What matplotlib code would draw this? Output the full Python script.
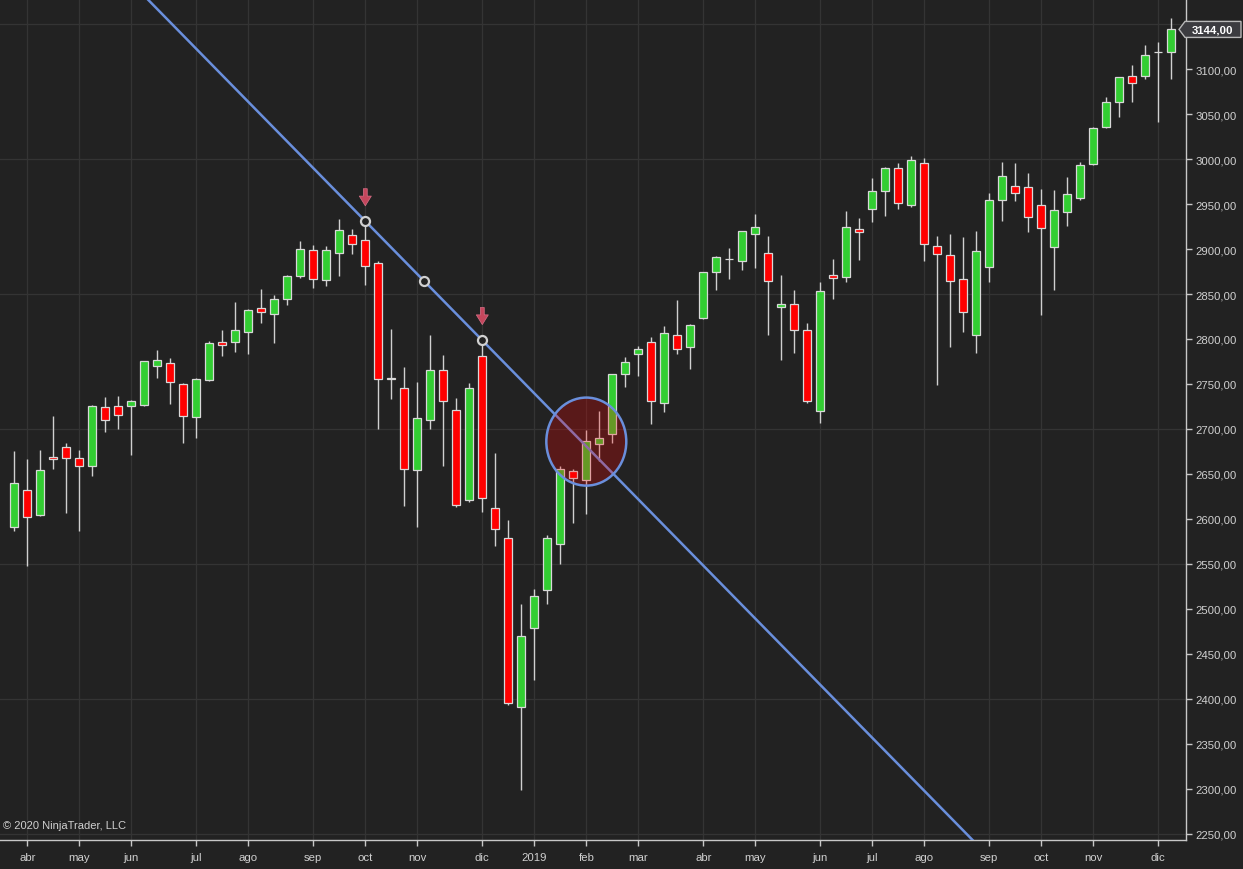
import numpy as np
import pandas as pd
import matplotlib
matplotlib.use("Agg")
import matplotlib.pyplot as plt
from matplotlib.patches import Ellipse, Polygon

# ---------------- data (weekly OHLC) ----------------
first_week = "2018-03-30"
opens = [2591, 2632, 2604, 2669, 2680, 2668, 2659, 2724, 2725, 2725,
         2727, 2770, 2773, 2750, 2713, 2754, 2797, 2797, 2808, 2834,
         2828, 2844, 2870, 2899, 2866, 2896, 2916, 2910, 2885, 2757,
         2745, 2654, 2710, 2766, 2721, 2621, 2781, 2612, 2579, 2391,
         2479, 2521, 2572, 2653, 2643, 2683, 2694, 2761, 2783, 2797,
         2729, 2805, 2791, 2823, 2874, 2889, 2887, 2917, 2896, 2836,
         2839, 2810, 2720, 2871, 2869, 2922, 2944, 2965, 2990, 2949,
         2996, 2903, 2893, 2867, 2805, 2880, 2954, 2970, 2969, 2949,
         2902, 2941, 2957, 2995, 3036, 3063, 3092, 3092, 3119, 3119]
highs = [2675, 2667, 2677, 2714, 2684, 2677, 2727, 2736, 2737, 2732,
         2775, 2788, 2779, 2751, 2757, 2798, 2810, 2841, 2833, 2856,
         2849, 2871, 2909, 2904, 2903, 2933, 2922, 2931, 2887, 2811,
         2769, 2752, 2804, 2782, 2734, 2751, 2799, 2673, 2599, 2505,
         2522, 2582, 2659, 2655, 2699, 2720, 2761, 2780, 2792, 2802,
         2814, 2843, 2817, 2875, 2892, 2901, 2920, 2939, 2915, 2871,
         2854, 2818, 2863, 2889, 2942, 2935, 2979, 2991, 2996, 3003,
         3001, 2914, 2917, 2913, 2920, 2962, 2997, 2996, 2984, 2967,
         2966, 2980, 2997, 3036, 3069, 3091, 3104, 3127, 3130, 3157]
lows = [2587, 2548, 2603, 2656, 2607, 2587, 2648, 2697, 2700, 2671,
        2725, 2757, 2728, 2684, 2690, 2753, 2781, 2785, 2783, 2818,
        2795, 2838, 2868, 2857, 2859, 2870, 2895, 2860, 2700, 2733,
        2614, 2591, 2700, 2659, 2613, 2619, 2608, 2570, 2393, 2299,
        2421, 2506, 2550, 2595, 2605, 2664, 2684, 2747, 2759, 2705,
        2719, 2783, 2767, 2822, 2855, 2867, 2877, 2879, 2804, 2777,
        2784, 2729, 2707, 2845, 2863, 2888, 2930, 2937, 2944, 2947,
        2887, 2749, 2791, 2808, 2784, 2863, 2931, 2953, 2919, 2827,
        2854, 2926, 2954, 2993, 3035, 3047, 3063, 3089, 3041, 3089]
closes = [2640, 2602, 2654, 2667, 2668, 2659, 2726, 2710, 2715, 2731,
          2775, 2777, 2752, 2714, 2755, 2795, 2793, 2810, 2832, 2830,
          2845, 2870, 2900, 2867, 2899, 2921, 2906, 2881, 2755, 2755,
          2656, 2712, 2766, 2731, 2616, 2745, 2623, 2589, 2396, 2470,
          2514, 2579, 2655, 2646, 2687, 2690, 2761, 2774, 2789, 2731,
          2807, 2789, 2816, 2874, 2891, 2889, 2920, 2925, 2865, 2839,
          2810, 2731, 2853, 2868, 2925, 2919, 2965, 2990, 2951, 2999,
          2906, 2894, 2865, 2830, 2898, 2955, 2981, 2962, 2936, 2923,
          2943, 2961, 2993, 3035, 3063, 3091, 3084, 3116, 3119, 3144]

month_names = ["ene", "feb", "mar", "abr", "may", "jun",
               "jul", "ago", "sep", "oct", "nov", "dic"]

# drawing-tool annotations (price levels)
trend_anchor_bar = [27, 36]
trend_anchor_price = [2931, 2798.5]
signal_bars = [27, 36]
circle_bar = 44.0
circle_price = 2686
last_price_text = "3144,00"
copyright_text = "\u00a9 2020 NinjaTrader, LLC"

# ---------------- style ----------------
BG = "#222222"
GRID = "#343434"
UP = "#32cd32"
DOWN = "#ff0000"
EDGE = "#d8d8d8"
WICK = "#d0d0d0"
TXT = "#d0d0d0"
LINE = "#6a8fdc"
FONT = ["Liberation Sans", "DejaVu Sans"]

W, H = 1243, 870
fig = plt.figure(figsize=(W / 100, H / 100), dpi=100, facecolor=BG)
ax = fig.add_axes([0, 29 / H, 1186 / W, 841 / H], facecolor=BG)

o = np.array(opens, float)
h = np.array(highs, float)
l = np.array(lows, float)
c = np.array(closes, float)
n = len(o)
idx = np.arange(n)
dates = pd.date_range(first_week, periods=n, freq="7D")

ax.set_xlim(-1.1, 90.13)
ax.set_ylim(2243.3, 3177.8)

# grid
month_start = [i for i in range(1, n) if dates[i].month != dates[i - 1].month]
for i in month_start:
    ax.axvline(i, color=GRID, lw=0.9, zorder=0)
for p in np.arange(2250, 3200, 150):
    ax.axhline(p, color=GRID, lw=0.9, zorder=0)

# candles
colors = np.where(c > o, UP, np.where(c < o, DOWN, EDGE))
ax.vlines(idx, l, h, color=WICK, lw=1.0, zorder=2)
bottoms = np.minimum(o, c)
heights = np.abs(c - o)
ax.bar(idx, heights, width=0.64, bottom=bottoms, color=colors,
       edgecolor=EDGE, linewidth=0.9, zorder=3)

# trend line through the two anchors
slope = (trend_anchor_price[1] - trend_anchor_price[0]) / (trend_anchor_bar[1] - trend_anchor_bar[0])
xs = np.array([-5.0, 100.0])
ys = trend_anchor_price[0] + slope * (xs - trend_anchor_bar[0])
ax.plot(xs, ys, color=LINE, lw=1.8, zorder=5, solid_capstyle="butt")

# highlight ellipse
ell = Ellipse((circle_bar, circle_price), width=6.15, height=97.8,
              facecolor=(1.0, 0.0, 0.0, 0.25), edgecolor=LINE, lw=1.8, zorder=6)
ax.add_patch(ell)

# anchor circles on the line
mid_bar = (trend_anchor_bar[0] + trend_anchor_bar[1]) / 2
anchor_x = [trend_anchor_bar[0], mid_bar, trend_anchor_bar[1]]
anchor_y = [trend_anchor_price[0] + slope * (x - trend_anchor_bar[0]) for x in anchor_x]
ax.plot(anchor_x, anchor_y, "o", ms=6.5, mfc=BG, mec="#d0d0d0", mew=1.6, zorder=7)

# signal arrows above the highs
for b in signal_bars:
    tip = h[b] + 17
    ax.annotate("", xy=(b, tip), xytext=(b, tip + 19),
                arrowprops=dict(arrowstyle="simple,head_length=0.5,head_width=0.62,tail_width=0.2",
                                facecolor="#c4465c", edgecolor="#d87088", lw=0.5,
                                shrinkA=0, shrinkB=0, mutation_scale=14),
                zorder=8)

# axes decorations
for s in ["top", "left"]:
    ax.spines[s].set_visible(False)
for s in ["right", "bottom"]:
    ax.spines[s].set_color("#c8c8c8")
    ax.spines[s].set_linewidth(1.0)

ax.yaxis.tick_right()
yt = np.arange(2250, 3101, 50)
ax.set_yticks(yt)
ax.set_yticklabels([f"{v:.2f}".replace(".", ",") for v in yt], family=FONT, fontsize=8.2, color=TXT)
ax.tick_params(axis="y", colors="#c8c8c8", length=4, width=1, pad=3, labelcolor=TXT)

tick_labels = [str(dates[i].year) if dates[i].month == 1 else month_names[dates[i].month - 1]
               for i in month_start]
ax.set_xticks(month_start)
ax.set_xticklabels(tick_labels, family=FONT, fontsize=8.2, color=TXT)
ax.tick_params(axis="x", colors="#c8c8c8", length=4, width=1, pad=5, labelcolor=TXT)

# last price marker
y_disp = ax.transData.transform((0, c[-1]))[1]
yf = y_disp / H
hh = 8 / H
x_tip, x_l, x_r = 1179 / W, 1185 / W, 1241 / W
poly = Polygon([(x_tip, yf), (x_l, yf + hh), (x_r, yf + hh), (x_r, yf - hh), (x_l, yf - hh)],
               closed=True, transform=fig.transFigure, facecolor="#3c3c40",
               edgecolor="#b8b8b8", lw=1.0, zorder=10)
fig.patches.append(poly)
fig.text(1213 / W, yf, last_price_text, ha="center", va="center", color="white",
         fontsize=8.2, fontweight="bold", family=FONT, zorder=11)

# copyright
ax.text(3 / 1186, 1 - 826 / 841, copyright_text, transform=ax.transAxes, ha="left",
        va="center", color=TXT, fontsize=8, family=FONT, zorder=9)

fig.savefig("out.png", dpi=100, facecolor=BG)
